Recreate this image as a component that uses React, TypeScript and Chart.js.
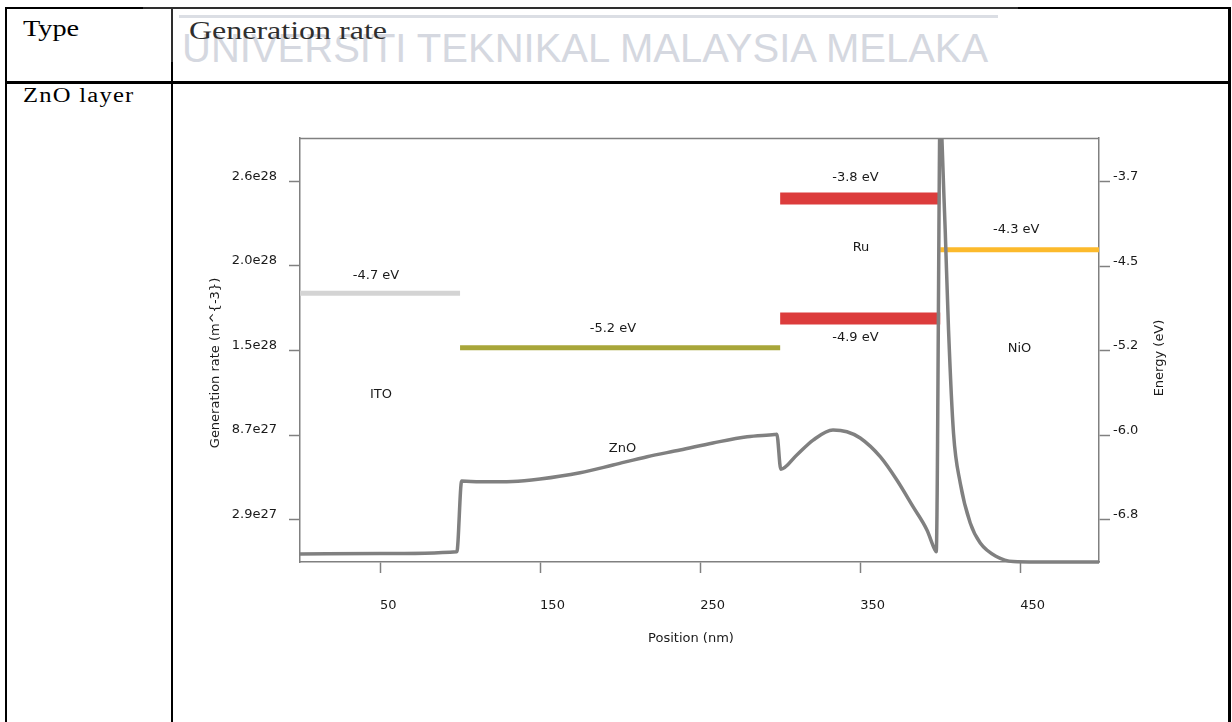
import React, { useEffect, useRef } from "react";
import { Chart, registerables } from "chart.js";

Chart.register(...registerables);

// ---------------- data ----------------
const positionNm = [
  0, 50, 98, 101, 112.5, 133, 150, 175, 195.6, 216.9, 237.5, 258, 279.4, 296.5, 297.9,
  300.4, 310.4, 320.6, 333, 341.7, 350, 362.5, 372.9, 383, 391.7, 396.5, 397.5,
  400.2, 401.1, 403.1, 405.2, 408.3, 412.5, 418.75, 425, 435.4, 445.6, 460, 480, 499.2,
];
const generationRate = [
  5.5e26, 5.8e26, 7.1e26, 5.55e27, 5.5e27, 5.52e27, 5.69e27, 6.12e27, 6.65e27, 7.22e27, 7.68e27, 8.16e27, 8.59e27, 8.74e27, 8.76e27,
  6.36e27, 7.34e27, 8.36e27, 9.05e27, 8.93e27, 8.5e27, 7.22e27, 5.62e27, 3.79e27, 2.19e27, 8.7e26, 7.1e26,
  3.3e28, 2.89e28, 2.28e28, 1.59e28, 8.84e27, 5.42e27, 2.67e27, 1.3e27, 3.6e26, 3e25, 0, 0, 0,
];

const levelNames = ["ITO", "ZnO", "Ru LUMO", "Ru HOMO", "NiO"];
const levelStart = [0, 100, 300, 300, 400];
const levelEnd = [100, 300, 400, 400, 499.2];
const levelEnergy = [-4.7, -5.2, -3.8, -4.9, -4.3];

const xTickValues = [50, 150, 250, 350, 450];
const genTickValues = [2.9e27, 8.7e27, 1.45e28, 2.03e28, 2.61e28];
const genTickLabels = ["2.9e27", "8.7e27", "1.5e28", "2.0e28", "2.6e28"];
const energyTickValues = [-6.8, -6.025, -5.25, -4.475, -3.7];
const energyTickLabels = ["-6.8", "-6.0", "-5.2", "-4.5", "-3.7"];

const annoText = ["-4.7 eV", "ITO", "-5.2 eV", "ZnO", "-3.8 eV", "Ru", "-4.9 eV", "-4.3 eV", "NiO"];
const annoX = [47.5, 50.6, 195.5, 201.5, 347, 350.5, 347, 447.5, 449.5];
const annoE = [-4.564, -5.654, -5.05, -6.149, -3.666, -4.303, -5.132, -4.143, -5.228];

// ---------------- styles ----------------
const levelColors = ["rgb(212,212,212)", "rgb(168,166,58)", "rgb(220,60,60)", "rgb(220,60,60)", "rgb(252,186,44)"];
const levelWidths = [5, 5, 12, 12, 5];
const FONT = "DejaVu Sans";
const TXT = "#1a1a1a";
const AXIS = "#808080";

const overlayPlugin = {
  id: "overlay",
  beforeDatasetsDraw(chart: any) {
    const { ctx, chartArea: ca } = chart;
    ctx.save();
    ctx.strokeStyle = AXIS;
    ctx.lineWidth = 1.5;
    ctx.beginPath();
    ctx.moveTo(ca.left, ca.top + 0.5);
    ctx.lineTo(ca.right, ca.top + 0.5);
    ctx.stroke();
    ctx.restore();
  },
  beforeDatasetDraw(chart: any, args: any) {
    const ds: any = chart.data.datasets[args.index];
    if (ds.yAxisID === "yE") {
      chart.ctx.save();
      chart.ctx.translate(0, ds.borderWidth / 2);
    }
  },
  afterDatasetDraw(chart: any, args: any) {
    const ds: any = chart.data.datasets[args.index];
    if (ds.yAxisID === "yE") chart.ctx.restore();
  },
  afterDraw(chart: any) {
    const { ctx, chartArea: ca, scales } = chart;
    ctx.save();
    ctx.fillStyle = TXT;
    ctx.font = `13px "${FONT}"`;
    ctx.textAlign = "center";
    ctx.textBaseline = "middle";
    annoText.forEach((t, i) => {
      ctx.fillText(t, scales.x.getPixelForValue(annoX[i]), scales.yE.getPixelForValue(annoE[i]));
    });
    const midY = (ca.top + ca.bottom) / 2;
    ctx.fillText("Position (nm)", (ca.left + ca.right) / 2 - 8.5, ca.bottom + 76.5);
    ctx.save();
    ctx.translate(ca.left - 84.5, midY + 13);
    ctx.rotate(-Math.PI / 2);
    ctx.fillText("Generation rate (m^{-3})", 0, 0);
    ctx.restore();
    ctx.save();
    ctx.translate(ca.right + 61, midY + 8);
    ctx.rotate(-Math.PI / 2);
    ctx.fillText("Energy (eV)", 0, 0);
    ctx.restore();
    ctx.restore();
  },
};

const tickFont = { family: FONT, size: 13 };

export default function App() {
  const ref = useRef<HTMLCanvasElement>(null);
  useEffect(() => {
    const curve = {
      type: "line",
      label: "Generation rate",
      data: positionNm.map((x, i) => ({ x, y: generationRate[i] })),
      yAxisID: "yG",
      xAxisID: "x",
      borderColor: "rgb(128,128,128)",
      borderWidth: 3.5,
      pointRadius: 0,
      cubicInterpolationMode: "monotone",
      order: 0,
      clip: { left: 0, top: 0, right: 0, bottom: 10 },
    };
    const levels = levelNames.map((n, i) => ({
      type: "line",
      label: n,
      data: [
        { x: levelStart[i], y: levelEnergy[i] },
        { x: levelEnd[i], y: levelEnergy[i] },
      ],
      yAxisID: "yE",
      xAxisID: "x",
      borderColor: levelColors[i],
      borderWidth: levelWidths[i],
      borderCapStyle: "butt",
      pointRadius: 0,
      order: 1,
      clip: false,
    }));
    const chart = new Chart(ref.current as HTMLCanvasElement, {
      type: "line",
      data: { datasets: [curve, ...levels] as any },
      options: {
        animation: false,
        responsive: false,
        maintainAspectRatio: false,
        layout: { padding: { top: 48, left: 0, right: 0, bottom: 0 } },
        plugins: { legend: { display: false }, tooltip: { enabled: false } },
        scales: {
          x: {
            type: "linear",
            position: "bottom",
            min: 0,
            max: 499.2,
            afterBuildTicks: (s: any) => {
              s.ticks = xTickValues.map((v) => ({ value: v }));
            },
            afterFit: (s: any) => {
              s.height = 148;
            },
            ticks: {
              align: "start",
              padding: 25,
              maxRotation: 0,
              autoSkip: false,
              color: TXT,
              font: tickFont,
              callback: (v: any) => String(v),
            },
            grid: { drawOnChartArea: false, tickLength: 11, tickColor: AXIS, tickWidth: 1.5 },
            border: { color: AXIS, width: 1.5 },
          },
          yG: {
            type: "linear",
            position: "left",
            min: 0,
            max: 2.907e28,
            afterBuildTicks: (s: any) => {
              s.ticks = genTickValues.map((v) => ({ value: v }));
            },
            afterFit: (s: any) => {
              s.width = 120;
            },
            ticks: {
              padding: 12,
              labelOffset: -5,
              autoSkip: false,
              color: TXT,
              font: tickFont,
              callback: (_v: any, i: number) => genTickLabels[i],
            },
            grid: { drawOnChartArea: false, tickLength: 11, tickColor: AXIS, tickWidth: 1.5 },
            border: { color: AXIS, width: 1.5 },
          },
          yE: {
            type: "linear",
            position: "right",
            min: -7.185,
            max: -3.3,
            afterBuildTicks: (s: any) => {
              s.ticks = energyTickValues.map((v) => ({ value: v }));
            },
            afterFit: (s: any) => {
              s.width = 121;
            },
            ticks: {
              padding: 3,
              labelOffset: -5,
              autoSkip: false,
              color: TXT,
              font: tickFont,
              callback: (_v: any, i: number) => energyTickLabels[i],
            },
            grid: { drawOnChartArea: false, tickLength: 11, tickColor: AXIS, tickWidth: 1.5 },
            border: { color: AXIS, width: 1.5 },
          },
        },
      } as any,
      plugins: [overlayPlugin as any],
    });
    return () => chart.destroy();
  }, []);

  const serif = '"Liberation Serif", "Times New Roman", serif';
  const line = (l: number, t: number, w: number, h: number, c = "#000") => (
    <div style={{ position: "absolute", left: l, top: t, width: w, height: h, background: c }} />
  );

  return (
    <div style={{ position: "fixed", left: 0, top: 0, width: 1232, height: 722, background: "#fff", overflow: "hidden" }}>
      <div
        style={{
          position: "absolute",
          left: 182,
          top: 28,
          fontFamily: '"Liberation Sans", Arial, sans-serif',
          fontSize: 40,
          lineHeight: "40px",
          color: "rgb(204,208,217)",
          whiteSpace: "nowrap",
        }}
      >
        UNIVERSITI TEKNIKAL MALAYSIA MELAKA
      </div>
      {line(179, 15, 819, 3, "rgb(212,215,222)")}
      {line(5, 7, 1226, 2)}
      {line(5, 7, 2, 715)}
      {line(171, 7, 2, 715)}
      {line(5, 81, 1226, 3)}
      {line(1228, 7, 3, 715)}
      <div style={{ position: "absolute", left: 23, top: 16.7, fontFamily: serif, fontSize: 23, lineHeight: "23px", color: "#000", whiteSpace: "nowrap", transform: "scaleX(1.23)", transformOrigin: "0 0" }}>
        Type
      </div>
      <div style={{ position: "absolute", left: 189, top: 18.2, fontFamily: serif, fontSize: 26, lineHeight: "26px", color: "#000", whiteSpace: "nowrap", transform: "scaleX(1.23)", transformOrigin: "0 0" }}>
        Generation rate
      </div>
      <div style={{ position: "absolute", left: 23, top: 85.3, fontFamily: serif, fontSize: 20, lineHeight: "20px", letterSpacing: 1, color: "#000", whiteSpace: "nowrap", transform: "scaleX(1.23)", transformOrigin: "0 0" }}>
        ZnO layer
      </div>
      <div style={{ position: "absolute", left: 143, top: 0, width: 875, height: 62, background: "rgba(255,255,255,0.18)" }} />
      <canvas
        ref={ref}
        width={1040}
        height={620}
        style={{ position: "absolute", left: 180, top: 90, width: 1040, height: 620 }}
      />
    </div>
  );
}
